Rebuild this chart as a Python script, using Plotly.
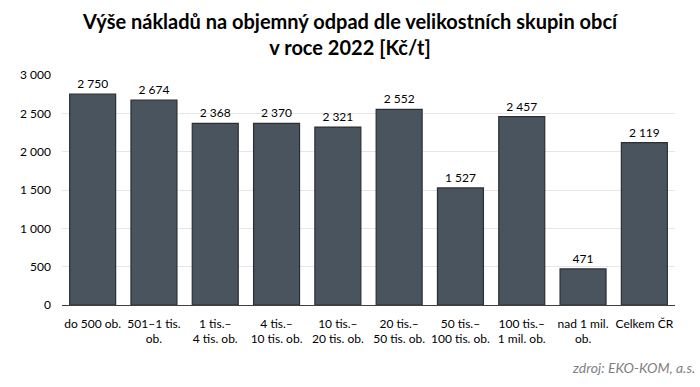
import plotly.graph_objects as go

categories = ["do 500 ob.", "501–1 tis.<br>ob.", "1 tis.–<br>4 tis. ob.", "4 tis.–<br>10 tis. ob.",
              "10 tis.–<br>20 tis. ob.", "20 tis.–<br>50 tis. ob.", "50 tis.–<br>100 tis. ob.",
              "100 tis.–<br>1 mil. ob.", "nad 1 mil.<br>ob.", "Celkem ČR"]
values = [2750, 2674, 2368, 2370, 2321, 2552, 1527, 2457, 471, 2119]
labels = [f"{v:,}".replace(",", " ") for v in values]
tick_vals = [0, 500, 1000, 1500, 2000, 2500, 3000]
tick_text = ["0", "500", "1 000", "1 500", "2 000", "2 500", "3 000"]

FONT = "Lato, Open Sans, sans-serif"

fig = go.Figure(go.Bar(
    x=categories, y=values, text=labels, textposition="outside",
    textfont=dict(size=12, color="#000000", family=FONT),
    marker=dict(color="#4a545e", line=dict(color="#2a2f35", width=1.2)),
    width=0.75, cliponaxis=False,
))

fig.update_layout(
    width=700, height=387,
    margin=dict(l=62, r=25, t=75, b=82),
    plot_bgcolor="white", paper_bgcolor="white",
    title=dict(text="<b>Výše nákladů na objemný odpad dle velikostních skupin obcí<br>v roce 2022 [Kč/t]</b>",
               x=0.5, xanchor="center", y=0.925, yanchor="top",
               font=dict(size=20, color="#000000", family=FONT)),
    font=dict(family=FONT, size=12, color="#000000"),
    showlegend=False,
    bargap=0.25,
)
fig.update_yaxes(range=[0, 3000], tickvals=tick_vals, ticktext=tick_text,
                 showgrid=True, gridcolor="#e6e6e6", gridwidth=1, zeroline=False,
                 ticks="", tickfont=dict(size=12), ticklabelstandoff=10)
fig.update_xaxes(showline=True, linecolor="#404040", linewidth=1.2, ticks="",
                 tickfont=dict(size=12), tickangle=0, ticklabelstandoff=7)

fig.add_annotation(text="<i>zdroj: EKO-KOM, a.s.</i>", xref="paper", yref="paper",
                   x=1.036, y=-0.27, xanchor="right", yanchor="middle", showarrow=False,
                   font=dict(size=14, color="#7f7f7f", family=FONT))

fig.write_html("out.html", config={"displayModeBar": False},
               post_script="document.body.style.margin='0';")
